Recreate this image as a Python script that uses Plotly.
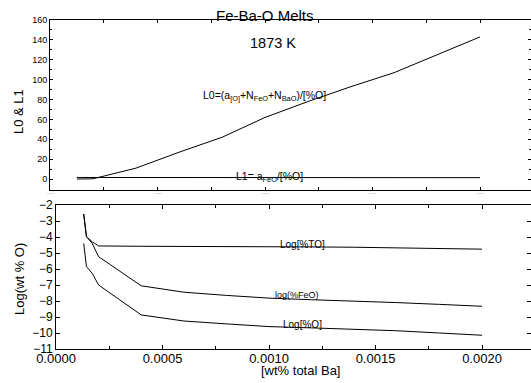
import plotly.graph_objects as go

W, H = 531, 383

# ---- data ----
x_top = [0.000125, 0.00013, 0.00015, 0.0002, 0.0004, 0.0006, 0.0008, 0.0010,
         0.0012, 0.0014, 0.0016, 0.0018, 0.0020]
L0 = [0, 0, 0, 0.3, 11, 27, 42, 62, 78, 93, 107, 125, 143]
L1 = [1.6, 1.6, 1.6, 1.6, 1.6, 1.6, 1.5, 1.5, 1.5, 1.5, 1.5, 1.4, 1.4]

x_bot = [0.00013, 0.000138, 0.000143, 0.00017, 0.0002, 0.0004, 0.0006, 0.0008,
         0.0010, 0.0012, 0.0014, 0.0016, 0.0018, 0.0020]
log_TO = [-2.56, -3.3, -3.98, -4.3, -4.56, -4.58, -4.58, -4.59, -4.6, -4.62,
          -4.64, -4.67, -4.71, -4.76]
log_FeO = [-2.56, -3.3, -3.98, -4.4, -5.23, -7.05, -7.45, -7.65, -7.82, -7.92,
           -8.0, -8.1, -8.21, -8.33]
log_O = [-4.4, -5.3, -5.85, -6.27, -7.0, -8.87, -9.25, -9.43, -9.6, -9.68,
         -9.76, -9.86, -10.0, -10.14]

x_ticks = [0.0, 0.0005, 0.0010, 0.0015, 0.0020]
x_ticklabels = ["0.0000", "0.0005", "0.0010", "0.0015", "0.0020"]

FONT = "Liberation Sans, Arial, sans-serif"


def px(x):
    return x / W


def py(y):
    return 1 - y / H


fig = go.Figure()
line = dict(color="black", width=1)
fig.add_trace(go.Scatter(x=x_top, y=L0, mode="lines", line=line, xaxis="x2", yaxis="y2"))
fig.add_trace(go.Scatter(x=x_top, y=L1, mode="lines", line=line, xaxis="x2", yaxis="y2"))
fig.add_trace(go.Scatter(x=x_bot, y=log_TO, mode="lines", line=line, xaxis="x", yaxis="y"))
fig.add_trace(go.Scatter(x=x_bot, y=log_FeO, mode="lines", line=line, xaxis="x", yaxis="y"))
fig.add_trace(go.Scatter(x=x_bot, y=log_O, mode="lines", line=line, xaxis="x", yaxis="y"))

common_ax = dict(showline=True, linecolor="black", linewidth=1, mirror="ticks",
                 ticks="inside", tickcolor="black", showgrid=False, zeroline=False,
                 automargin=False)

fig.update_layout(
    width=W, height=H,
    margin=dict(l=0, r=0, t=0, b=0, pad=0),
    paper_bgcolor="white", plot_bgcolor="white",
    showlegend=False,
    font=dict(family=FONT, color="black"),
    xaxis=dict(domain=[px(56), 1], range=[0, 0.00223], anchor="y",
               tickvals=x_ticks, ticktext=x_ticklabels, ticklen=4,
               tickfont=dict(size=13), ticklabelstandoff=-3,
               minor=dict(dtick=0.00025, tick0=0, ticks="inside", ticklen=3, tickcolor="black"),
               **common_ax),
    yaxis=dict(domain=[py(349), py(205)], range=[-11, -2], anchor="x",
               dtick=1, ticklen=4, tickfont=dict(size=12), **common_ax),
    xaxis2=dict(domain=[px(50), 1], range=[0, 0.002237], anchor="y2",
                tickvals=x_ticks, ticktext=x_ticklabels, ticklen=3,
                tickfont=dict(size=2.5, color="#999999"),
                minor=dict(dtick=0.00025, tick0=0, ticks="inside", ticklen=3, tickcolor="black"),
                **common_ax),
    yaxis2=dict(domain=[py(190), py(20)], range=[-11, 160], anchor="x2",
                dtick=20, ticklen=3, tickfont=dict(size=9),
                minor=dict(dtick=10, ticks="inside", ticklen=2, tickcolor="black"),
                **common_ax),
)

annots = [
    dict(text="Fe-Ba-O Melts", x=px(265), y=py(16), size=15),
    dict(text="1873 K", x=px(273), y=py(43), size=14.5),
    dict(text="L0 &amp; L1", x=px(18), y=py(112), size=13, angle=-90),
    dict(text="Log(wt % O)", x=px(19), y=py(279), size=13, angle=-90),
    dict(text="[wt% total Ba]", x=px(300), y=py(370), size=13),
    dict(text="L0=(a<sub>[O]</sub>+N<sub>FeO</sub>+N<sub>BaO</sub>)/[%O]", x=px(264), y=py(96), size=10.5),
    dict(text="L1= a<sub>FeO</sub>/[%O]", x=px(269), y=py(177), size=10.5),
    dict(text="Log[%TO]", x=px(302), y=py(244), size=10),
    dict(text="log(%FeO)", x=px(297), y=py(295), size=9),
    dict(text="Log[%O]", x=px(302), y=py(324), size=10),
]
for a in annots:
    fig.add_annotation(text=a["text"], x=a["x"], y=a["y"], xref="paper", yref="paper",
                       showarrow=False, xanchor="center", yanchor="middle",
                       textangle=a.get("angle", 0),
                       font=dict(size=a["size"], family=FONT, color="black"))

fig.write_html("out.html", config={"displayModeBar": False},
               post_script="document.body.style.margin='0px';document.body.style.padding='0px';")
